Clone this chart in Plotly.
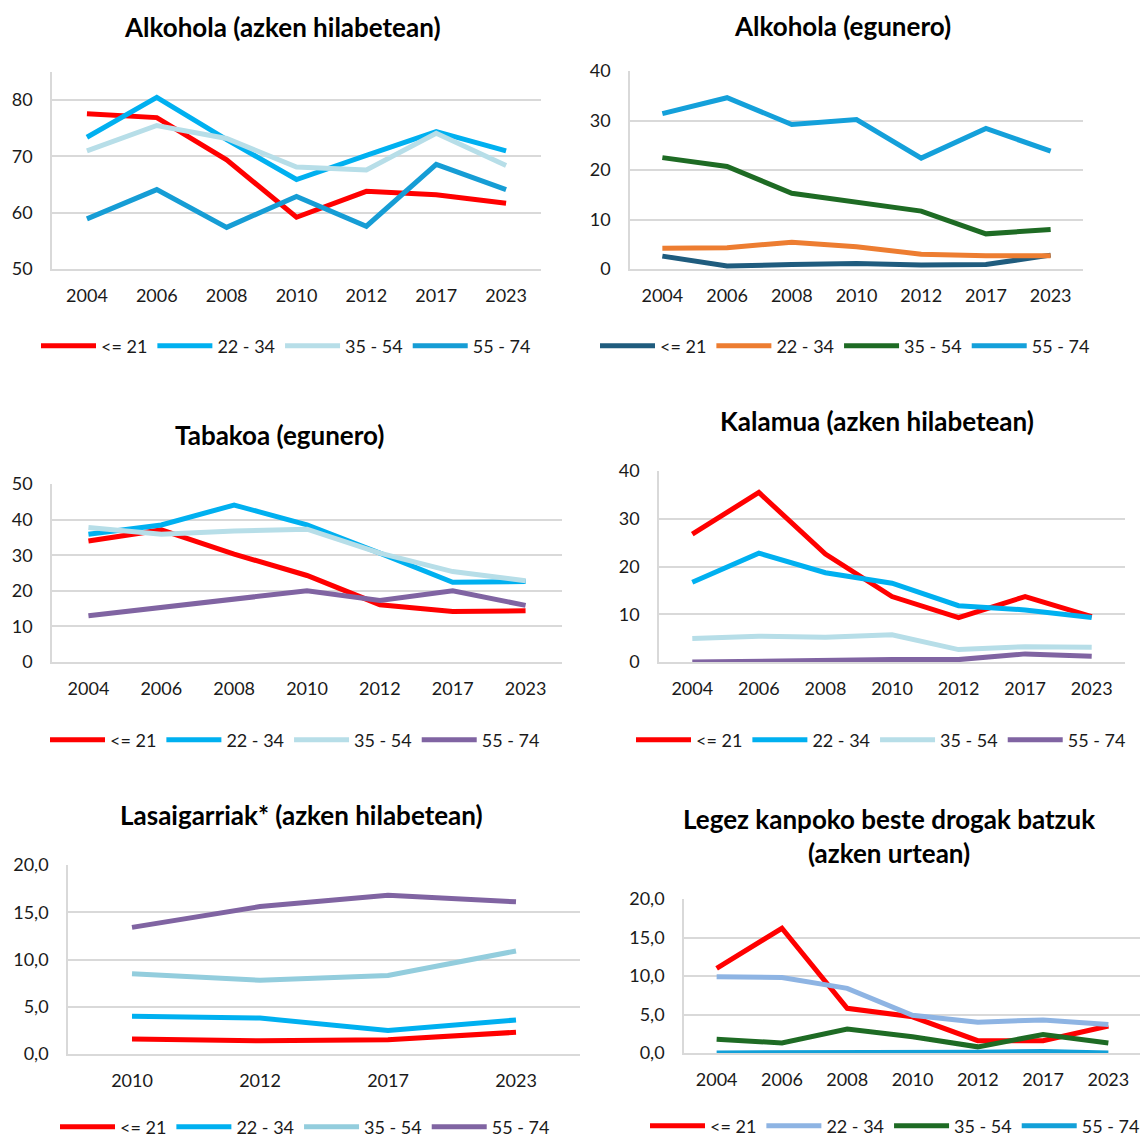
import plotly.graph_objects as go

# the page body keeps its default 8px margin: the figure starts at (8, 8)
# and runs to the edge of the window
PAGE_W, PAGE_H = 1148, 1141
OFF = 8
W, H = PAGE_W - OFF, PAGE_H - OFF

years = ["2004", "2006", "2008", "2010", "2012", "2017", "2023"]
years_short = ["2010", "2012", "2017", "2023"]
groups = ["<= 21", "22 - 34", "35 - 54", "55 - 74"]

# one list per age group, in the order of `groups`
alkohola_hilabete = [
    [77.6, 76.9, 69.4, 59.2, 63.8, 63.2, 61.7],
    [73.4, 80.5, 73.0, 65.9, 70.2, 74.4, 71.0],
    [71.0, 75.5, 73.2, 68.1, 67.6, 74.1, 68.4],
    [58.9, 64.1, 57.4, 62.9, 57.6, 68.6, 64.1],
]
alkohola_egunero = [
    [2.6, 0.6, 0.9, 1.1, 0.8, 0.9, 2.8],
    [4.2, 4.3, 5.4, 4.5, 3.0, 2.7, 2.7],
    [22.5, 20.7, 15.3, 13.5, 11.7, 7.1, 8.0],
    [31.4, 34.6, 29.2, 30.2, 22.4, 28.4, 23.8],
]
tabakoa = [
    [34.0, 37.1, 30.3, 24.3, 16.1, 14.2, 14.4],
    [35.9, 38.5, 44.1, 38.5, 30.6, 22.4, 22.6],
    [37.8, 35.9, 36.8, 37.3, 30.6, 25.4, 22.8],
    [13.0, 15.3, 17.6, 20.0, 17.3, 20.0, 15.9],
]
kalamua = [
    [26.8, 35.5, 22.6, 13.7, 9.3, 13.7, 9.5],
    [16.7, 22.8, 18.7, 16.5, 11.8, 10.9, 9.3],
    [4.9, 5.4, 5.2, 5.7, 2.6, 3.2, 3.1],
    [0.0, 0.2, 0.3, 0.5, 0.5, 1.7, 1.2],
]
lasaigarriak = [
    [1.6, 1.4, 1.5, 2.3],
    [4.0, 3.8, 2.5, 3.6],
    [8.5, 7.8, 8.3, 10.9],
    [13.4, 15.6, 16.8, 16.1],
]
beste_drogak = [
    [11.0, 16.2, 5.8, 4.7, 1.6, 1.6, 3.5],
    [9.9, 9.8, 8.4, 4.9, 4.0, 4.3, 3.7],
    [1.8, 1.3, 3.1, 2.1, 0.8, 2.4, 1.3],
    [0.0, 0.0, 0.0, 0.0, 0.1, 0.2, 0.0],
]

titles = [
    "Alkohola (azken hilabetean)",
    "Alkohola (egunero)",
    "Tabakoa (egunero)",
    "Kalamua (azken hilabetean)",
    "Lasaigarriak* (azken hilabetean)",
    "Legez kanpoko beste drogak batzuk<br>(azken urtean)",
]

RED, CYAN, PALE, PURPLE = "#FF0000", "#00B0F0", "#B7DEE8", "#8064A2"
panels = [
    dict(data=alkohola_hilabete, cats=years, colors=[RED, CYAN, PALE, "#169DD5"],
         box=(52, 541, 72, 269), yr=[50, 85], dt=10, fmt="d",
         title=(282, 27), leg=(286, 346)),
    dict(data=alkohola_egunero, cats=years, colors=["#1F5C7E", "#ED7D31", "#1E6B24", "#14A0DA"],
         box=(630, 1083, 71, 269), yr=[0, 40], dt=10, fmt="d",
         title=(842, 26), leg=(845, 346)),
    dict(data=tabakoa, cats=years, colors=[RED, CYAN, PALE, PURPLE],
         box=(52, 562, 484, 662), yr=[0, 50], dt=10, fmt="d",
         title=(279, 435), leg=(295, 740)),
    dict(data=kalamua, cats=years, colors=[RED, CYAN, PALE, PURPLE],
         box=(659, 1125, 471, 662), yr=[0, 40], dt=10, fmt="d",
         title=(877, 421), leg=(881, 740)),
    dict(data=lasaigarriak, cats=years_short, colors=[RED, CYAN, "#93CDDD", PURPLE],
         box=(68, 580, 865, 1054), yr=[0, 20], dt=5, fmt=".1f",
         title=(301, 815), leg=(305, 1127)),
    dict(data=beste_drogak, cats=years, colors=[RED, "#8EB4E3", "#1E6B24", "#12A0D8"],
         box=(684, 1141, 899, 1053), yr=[0, 20], dt=5, fmt=".1f",
         title=(889, 836), leg=(895, 1126)),
]


def px(x):
    return (x - OFF) / W


def py(y):
    return 1 - (y - OFF) / H


FONT = "Lato"
GRID = "#D9D9D9"
TXT = "#1A1A1A"

fig = go.Figure()
layout = dict(
    width=W, height=H,
    margin=dict(l=0, r=0, t=0, b=0, autoexpand=False),
    paper_bgcolor="white", plot_bgcolor="white",
    font=dict(family=FONT, size=18, color=TXT),
    separators=",.", annotations=[],
)

for i, p in enumerate(panels):
    n = i + 1
    sfx = "" if n == 1 else str(n)
    leg = "legend" if n == 1 else f"legend{n}"
    for g, vals, col in zip(groups, p["data"], p["colors"]):
        fig.add_trace(go.Scatter(
            x=p["cats"], y=vals, name=g, mode="lines",
            line=dict(color=col, width=5),
            xaxis=f"x{sfx}", yaxis=f"y{sfx}", legend=leg,
        ))
    l, r, t, b = p["box"]
    layout[f"xaxis{sfx}"] = dict(
        domain=[px(l), px(r)], anchor=f"y{sfx}", type="category",
        range=[-0.5, len(p["cats"]) - 0.5], showgrid=False,
        showline=True, linecolor=GRID, linewidth=1.5, ticks="",
        ticklabelstandoff=10, tickfont=dict(size=18, color=TXT),
        automargin=False,
    )
    layout[f"yaxis{sfx}"] = dict(
        domain=[py(b), py(t)], anchor=f"x{sfx}", range=p["yr"],
        dtick=p["dt"], tick0=0, tickformat=p["fmt"], showgrid=True,
        gridcolor=GRID, gridwidth=1.5, showline=True, linecolor=GRID,
        linewidth=1.5, zeroline=False, ticks="", ticklabelstandoff=14,
        tickfont=dict(size=18, color=TXT), automargin=False,
    )
    lx, ly = p["leg"]
    layout[leg] = dict(
        orientation="h", x=px(lx), y=py(ly), xanchor="center",
        yanchor="middle", itemwidth=55, font=dict(size=18, color=TXT),
        bgcolor="rgba(0,0,0,0)", tracegroupgap=0,
    )
    tx, ty = p["title"]
    layout["annotations"].append(dict(
        text=f"<b>{titles[i]}</b>", x=px(tx), y=py(ty), xref="paper",
        yref="paper", xanchor="center", yanchor="middle", showarrow=False,
        font=dict(family=FONT, size=26, color="#000000"),
    ))

fig.update_layout(**layout)
fig.write_html("out.html")
